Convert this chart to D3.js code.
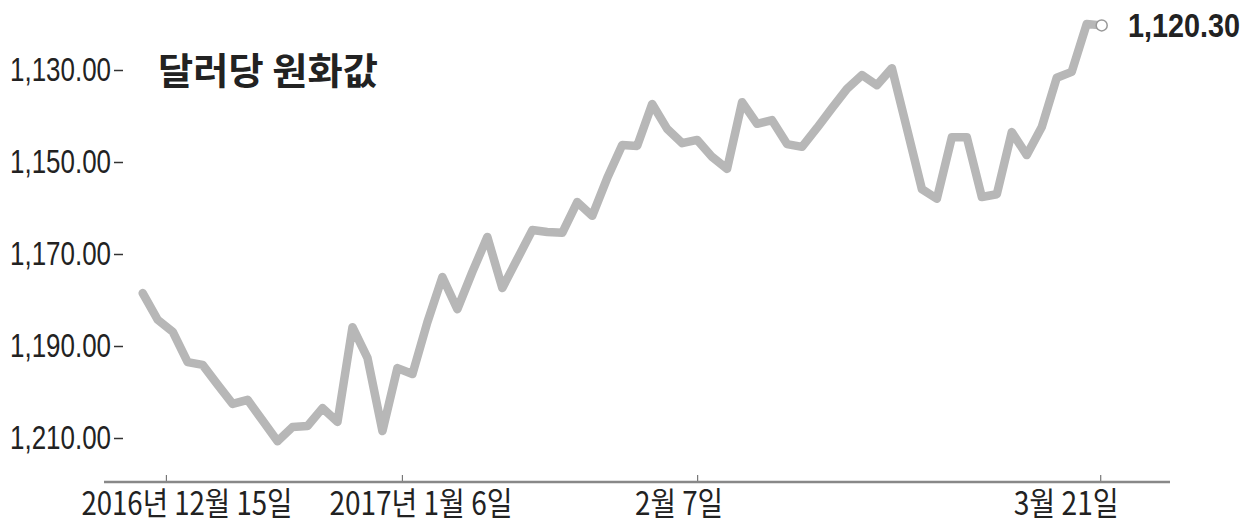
<!DOCTYPE html>
<html>
<head>
<meta charset="utf-8">
<script src="https://cdn.jsdelivr.net/npm/d3@7"></script>
<style>
  body { margin: 0; background: #fff; }
  svg { display: block; }
</style>
</head>
<body>
<div id="chart"></div>
<script>
// Data
const title = '달러당 원화값';
const values = [
  1178.5, 1184.3, 1186.9, 1193.5, 1194.1, 1198.4, 1202.6, 1201.7, 1206.2, 1210.7,
  1207.6, 1207.4, 1203.5, 1206.5, 1185.9, 1192.6, 1208.5, 1194.8, 1196.1, 1184.8,
  1175.0, 1182.0, 1173.9, 1166.3, 1177.4, 1171.1, 1164.8, 1165.2, 1165.4, 1158.7,
  1161.7, 1153.5, 1146.3, 1146.5, 1137.4, 1142.8, 1145.9, 1145.2, 1148.9, 1151.5,
  1137.0, 1141.7, 1140.9, 1146.1, 1146.7, 1142.6, 1138.3, 1134.1, 1131.1, 1133.3,
  1129.6, 1142.7, 1155.9, 1158.0, 1144.6, 1144.6, 1157.6, 1157.0, 1143.5, 1148.5,
  1142.4, 1131.7, 1130.4, 1120.0, 1120.3
];
const yTicks = [1130, 1150, 1170, 1190, 1210];
const xTickIndex = [1.55, 17.3, 37, 63.9];
const xTickLabels = ['2016년 12월 15일', '2017년 1월 6일', '2월 7일', '3월 21일'];
const lastLabel = '1,120.30';

// Dimensions
const width = 1255, height = 529;

const svg = d3.select('#chart').append('svg')
  .attr('width', width)
  .attr('height', height);

// Scales
const xScale = d3.scaleLinear()
  .domain([0, values.length - 1])
  .range([142.7, 1101.7]);

const yScale = d3.scaleLinear()
  .domain([1130, 1210])
  .range([70, 438]);

// Y axis (ticks on the right of the labels, no domain line)
const yAxis = d3.axisLeft(yScale)
  .tickValues(yTicks)
  .tickSize(9)
  .tickPadding(3)
  .tickFormat(d => d3.format(',.2f')(d));

const yAxisGroup = svg.append('g')
  .attr('transform', 'translate(123,0)')
  .call(yAxis);
yAxisGroup.select('.domain').remove();
yAxisGroup.selectAll('.tick line').attr('stroke', '#333').attr('stroke-width', 1.5);
yAxisGroup.selectAll('.tick text')
  .attr('fill', '#222')
  .style('font-family', '"Liberation Sans", Arial, sans-serif')
  .style('font-size', '33px')
  .attr('textLength', 101)
  .attr('lengthAdjust', 'spacingAndGlyphs');

// X axis
const axisY = 482;
const xAxis = d3.axisBottom(xScale)
  .tickValues(xTickIndex)
  .tickSize(-7)
  .tickFormat('');
const xAxisGroup = svg.append('g')
  .attr('transform', `translate(0,${axisY})`)
  .call(xAxis);
xAxisGroup.select('.domain').remove();
xAxisGroup.selectAll('.tick line').attr('stroke', '#777').attr('stroke-width', 1.2);
xAxisGroup.append('line')
  .attr('x1', 104).attr('x2', 1170)
  .attr('y1', 0).attr('y2', 0)
  .attr('stroke', '#888')
  .attr('stroke-width', 2.5);

// x labels: sit a bit off the tick marks as in the original
const labelShift = [21, 19, -18, -34];
const labelWidth = [211, 183, 88, 105];
svg.append('g').selectAll('text')
  .data(xTickLabels)
  .join('text')
  .attr('x', (d, i) => xScale(xTickIndex[i]) + labelShift[i])
  .attr('y', 515)
  .attr('text-anchor', 'middle')
  .attr('fill', '#222')
  .style('font-family', '"Noto Sans CJK KR", sans-serif')
  .style('font-size', '32px')
  .attr('textLength', (d, i) => labelWidth[i])
  .attr('lengthAdjust', 'spacingAndGlyphs')
  .text(d => d);

// Title
svg.append('text')
  .attr('x', 158)
  .attr('y', 85)
  .attr('fill', '#222')
  .style('font-family', '"Noto Sans CJK KR", sans-serif')
  .style('font-weight', 'bold')
  .style('font-size', '37px')
  .attr('textLength', 220)
  .attr('lengthAdjust', 'spacingAndGlyphs')
  .text(title);

// Line
const line = d3.line()
  .x((d, i) => xScale(i))
  .y(d => yScale(d));

svg.append('path')
  .datum(values)
  .attr('d', line)
  .attr('fill', 'none')
  .attr('stroke', '#b7b7b7')
  .attr('stroke-width', 8.5)
  .attr('stroke-linejoin', 'round')
  .attr('stroke-linecap', 'round');

// Last point marker and label
const lastI = values.length - 1;
svg.append('circle')
  .attr('cx', xScale(lastI))
  .attr('cy', yScale(values[lastI]))
  .attr('r', 5.5)
  .attr('fill', '#fff')
  .attr('stroke', '#999')
  .attr('stroke-width', 1.5);

svg.append('text')
  .attr('x', 1128)
  .attr('y', 37)
  .attr('fill', '#222')
  .style('font-family', '"Liberation Sans", Arial, sans-serif')
  .style('font-weight', 'bold')
  .style('font-size', '33px')
  .attr('textLength', 112)
  .attr('lengthAdjust', 'spacingAndGlyphs')
  .text(lastLabel);
</script>
</body>
</html>
